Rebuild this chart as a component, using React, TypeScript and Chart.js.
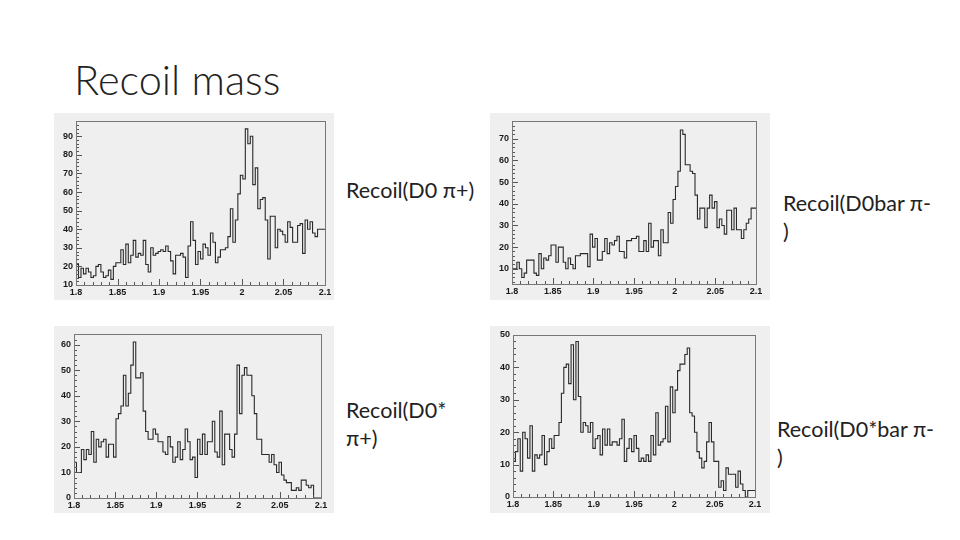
import React, { useEffect, useRef } from "react";
import { Chart, registerables } from "chart.js";

Chart.register(...registerables);

// ---- data ----
const X_MIN = 1.8;
const X_MAX = 2.1;
const xTickValues = [1.8, 1.85, 1.9, 1.95, 2, 2.05, 2.1];
const xTickLabels = ["1.8", "1.85", "1.9", "1.95", "2", "2.05", "2.1"];

const recoilD0PiPlus = [
  17, 21, 14, 19, 16, 19, 17, 14, 15, 20, 21, 17, 14, 15, 18, 13, 20, 22, 22, 29,
  21, 32, 22, 26, 34, 25, 27, 26, 34, 21, 17, 30, 26, 27, 28, 29, 28, 31, 28, 23,
  16, 26, 26, 27, 25, 14, 31, 44, 34, 21, 28, 24, 32, 30, 26, 38, 33, 22, 25, 29,
  29, 30, 36, 51, 33, 45, 59, 69, 67, 94, 86, 90, 64, 73, 51, 56, 57, 45, 24, 47,
  47, 30, 40, 39, 37, 33, 44, 41, 33, 33, 42, 43, 27, 45, 40, 44, 38, 36, 40, 40,
];
const recoilD0barPiMinus = [
  16, 10, 10, 13, 10, 6, 8, 14, 14, 14, 8, 7, 17, 10, 15, 14, 16, 21, 21, 13,
  20, 20, 13, 10, 15, 12, 10, 16, 16, 17, 17, 17, 11, 26, 20, 24, 14, 14, 18, 24,
  17, 22, 21, 23, 25, 18, 18, 15, 23, 23, 24, 24, 25, 18, 18, 23, 18, 31, 20, 23,
  23, 16, 28, 22, 22, 36, 31, 42, 48, 55, 74, 72, 58, 58, 55, 54, 44, 33, 38, 38,
  29, 38, 44, 38, 41, 29, 33, 30, 26, 37, 37, 28, 38, 28, 28, 24, 28, 31, 33, 38,
];
const recoilD0starPiPlus = [
  17, 14, 10, 10, 19, 15, 19, 17, 26, 14, 23, 20, 22, 23, 16, 21, 21, 16, 31, 33,
  36, 48, 36, 41, 52, 61, 47, 47, 49, 34, 26, 23, 23, 27, 25, 22, 22, 18, 17, 24,
  20, 14, 16, 22, 15, 19, 27, 22, 15, 16, 8, 23, 17, 25, 17, 22, 22, 30, 18, 16,
  34, 13, 25, 25, 19, 16, 25, 52, 33, 48, 51, 48, 48, 40, 33, 23, 23, 17, 17, 17,
  14, 17, 13, 10, 14, 9, 7, 6, 6, 3, 3, 4, 3, 7, 7, 5, 4, 5, 0, 0,
];
const recoilD0starbarPiMinus = [
  10, 11, 14, 18, 8, 20, 18, 12, 22, 8, 13, 12, 13, 19, 10, 14, 18, 15, 19, 19,
  23, 32, 40, 41, 35, 47, 30, 48, 31, 20, 23, 22, 20, 23, 15, 18, 19, 13, 21, 16,
  21, 16, 17, 17, 16, 18, 24, 11, 15, 18, 14, 19, 15, 11, 12, 11, 13, 11, 19, 13,
  26, 16, 17, 18, 28, 17, 34, 26, 33, 39, 41, 41, 44, 46, 26, 25, 20, 14, 12, 9,
  11, 17, 23, 17, 11, 11, 3, 5, 2, 9, 7, 7, 7, 3, 8, 4, 2, 0, 2, 2,
];

const yTicks1 = [10, 20, 30, 40, 50, 60, 70, 80, 90];
const yTicks2 = [10, 20, 30, 40, 50, 60, 70];
const yTicks3 = [0, 10, 20, 30, 40, 50, 60];
const yTicks4 = [0, 10, 20, 30, 40, 50];

type Box = { left: number; top: number; width: number; height: number };
type Plot = { left: number; right: number; top: number; bottom: number };

const framePlugin = {
  id: "rootFrame",
  afterDraw(chart: any) {
    const ctx = chart.ctx;
    const { left, right, top, bottom } = chart.chartArea;
    const xs = chart.scales.x;
    const ys = chart.scales.y;
    ctx.save();
    ctx.strokeStyle = "#555";
    ctx.lineWidth = 1;
    for (let k = 0; k <= 30; k++) {
      const v = X_MIN + k * 0.01;
      const px = Math.round(xs.getPixelForValue(v)) + 0.5;
      const len = k % 5 === 0 ? 6 : 3;
      ctx.beginPath();
      ctx.moveTo(px, bottom);
      ctx.lineTo(px, bottom - len);
      ctx.stroke();
    }
    const yStart = Math.ceil(ys.min / 2) * 2;
    for (let v = yStart; v <= ys.max; v += 2) {
      const py = Math.round(ys.getPixelForValue(v)) + 0.5;
      const len = v % 10 === 0 ? 6 : 3;
      ctx.beginPath();
      ctx.moveTo(left, py);
      ctx.lineTo(left + len, py);
      ctx.stroke();
    }
    ctx.strokeStyle = "#777";
    ctx.strokeRect(Math.round(left) + 0.5, Math.round(top) + 0.5, Math.round(right - left), Math.round(bottom - top));
    ctx.restore();
  },
};

function Hist(props: {
  box: Box;
  plot: Plot;
  values: number[];
  yMin: number;
  yMax: number;
  yTicks: number[];
}) {
  const ref = useRef<HTMLCanvasElement | null>(null);
  const { box, plot, values, yMin, yMax, yTicks } = props;
  useEffect(() => {
    if (!ref.current) return;
    const w = (X_MAX - X_MIN) / values.length;
    const pts = values.map((v, i) => ({ x: X_MIN + i * w, y: v }));
    pts.push({ x: X_MAX, y: values[values.length - 1] });
    const yAxisW = plot.left - box.left;
    const xAxisH = box.top + box.height - plot.bottom;
    const padTop = plot.top - box.top;
    const padRight = box.left + box.width - plot.right;
    const tickFont = { family: "'Liberation Sans', Arial, sans-serif", size: 9, weight: "bold" as const };
    const chart = new Chart(ref.current, {
      type: "line",
      data: {
        datasets: [
          {
            data: pts,
            stepped: "after",
            borderColor: "#2a2a2a",
            borderWidth: 1.1,
            pointRadius: 0,
            fill: false,
          },
        ],
      },
      options: {
        animation: false,
        responsive: false,
        devicePixelRatio: 1,
        layout: { padding: { top: padTop, right: padRight, left: 0, bottom: 0 } },
        plugins: { legend: { display: false }, tooltip: { enabled: false } },
        scales: {
          x: {
            type: "linear",
            min: X_MIN,
            max: X_MAX,
            grid: { display: false, drawTicks: false, tickLength: 0 },
            border: { display: false },
            afterBuildTicks: (s: any) => {
              s.ticks = xTickValues.map((v) => ({ value: v }));
            },
            afterFit: (s: any) => {
              s.height = xAxisH;
            },
            ticks: {
              autoSkip: false,
              maxRotation: 0,
              padding: 2,
              color: "#1a1a1a",
              font: tickFont,
              callback: (v: any) => {
                const idx = xTickValues.findIndex((t) => Math.abs(t - Number(v)) < 1e-6);
                return idx >= 0 ? xTickLabels[idx] : "";
              },
            },
          },
          y: {
            type: "linear",
            min: yMin,
            max: yMax,
            grid: { display: false, drawTicks: false, tickLength: 0 },
            border: { display: false },
            afterBuildTicks: (s: any) => {
              s.ticks = yTicks.map((v) => ({ value: v }));
            },
            afterFit: (s: any) => {
              s.width = yAxisW;
            },
            ticks: {
              padding: 3,
              color: "#1a1a1a",
              font: tickFont,
              callback: (v: any) => String(v),
            },
          },
        },
      } as any,
      plugins: [framePlugin],
    });
    return () => chart.destroy();
  }, []);
  return (
    <div
      style={{
        position: "absolute",
        left: box.left,
        top: box.top,
        width: box.width,
        height: box.height,
        background: "#efefef",
      }}
    >
      <canvas ref={ref} width={box.width} height={box.height} style={{ display: "block" }} />
    </div>
  );
}

const labelStyle: React.CSSProperties = {
  position: "absolute",
  fontFamily: "Lato, 'Open Sans', sans-serif",
  fontWeight: 400,
  fontSize: 21.5,
  lineHeight: "28px",
  color: "#222",
  whiteSpace: "pre",
};

export default function App() {
  return (
    <div
      style={{
        position: "absolute",
        left: 0,
        top: 0,
        width: 960,
        height: 540,
        background: "#ffffff",
        overflow: "hidden",
      }}
    >
      <div
        style={{
          position: "absolute",
          left: 74,
          top: 55,
          fontFamily: "Lato, 'Open Sans', sans-serif",
          fontWeight: 300,
          fontSize: 41.5,
          lineHeight: "48px",
          color: "#222",
          whiteSpace: "pre",
        }}
      >
        Recoil mass
      </div>

      <Hist
        box={{ left: 54, top: 113, width: 280, height: 187 }}
        plot={{ left: 76, right: 325, top: 118, bottom: 285 }}
        values={recoilD0PiPlus}
        yMin={10}
        yMax={98}
        yTicks={yTicks1}
      />
      <Hist
        box={{ left: 490, top: 113, width: 280, height: 187 }}
        plot={{ left: 512, right: 756, top: 119, bottom: 284 }}
        values={recoilD0barPiMinus}
        yMin={3}
        yMax={78}
        yTicks={yTicks2}
      />
      <Hist
        box={{ left: 54, top: 326, width: 280, height: 187 }}
        plot={{ left: 74, right: 321, top: 331, bottom: 498 }}
        values={recoilD0starPiPlus}
        yMin={0}
        yMax={64}
        yTicks={yTicks3}
      />
      <Hist
        box={{ left: 490, top: 326, width: 280, height: 187 }}
        plot={{ left: 513, right: 755, top: 335, bottom: 497 }}
        values={recoilD0starbarPiMinus}
        yMin={0}
        yMax={50}
        yTicks={yTicks4}
      />

      <div style={{ ...labelStyle, left: 346, top: 176 }}>{"Recoil(D0 π+)"}</div>
      <div style={{ ...labelStyle, left: 783, top: 189 }}>{"Recoil(D0bar π-\n)"}</div>
      <div style={{ ...labelStyle, left: 346, top: 396 }}>{"Recoil(D0*\nπ+)"}</div>
      <div style={{ ...labelStyle, left: 777, top: 415 }}>{"Recoil(D0*bar π-\n)"}</div>
    </div>
  );
}
